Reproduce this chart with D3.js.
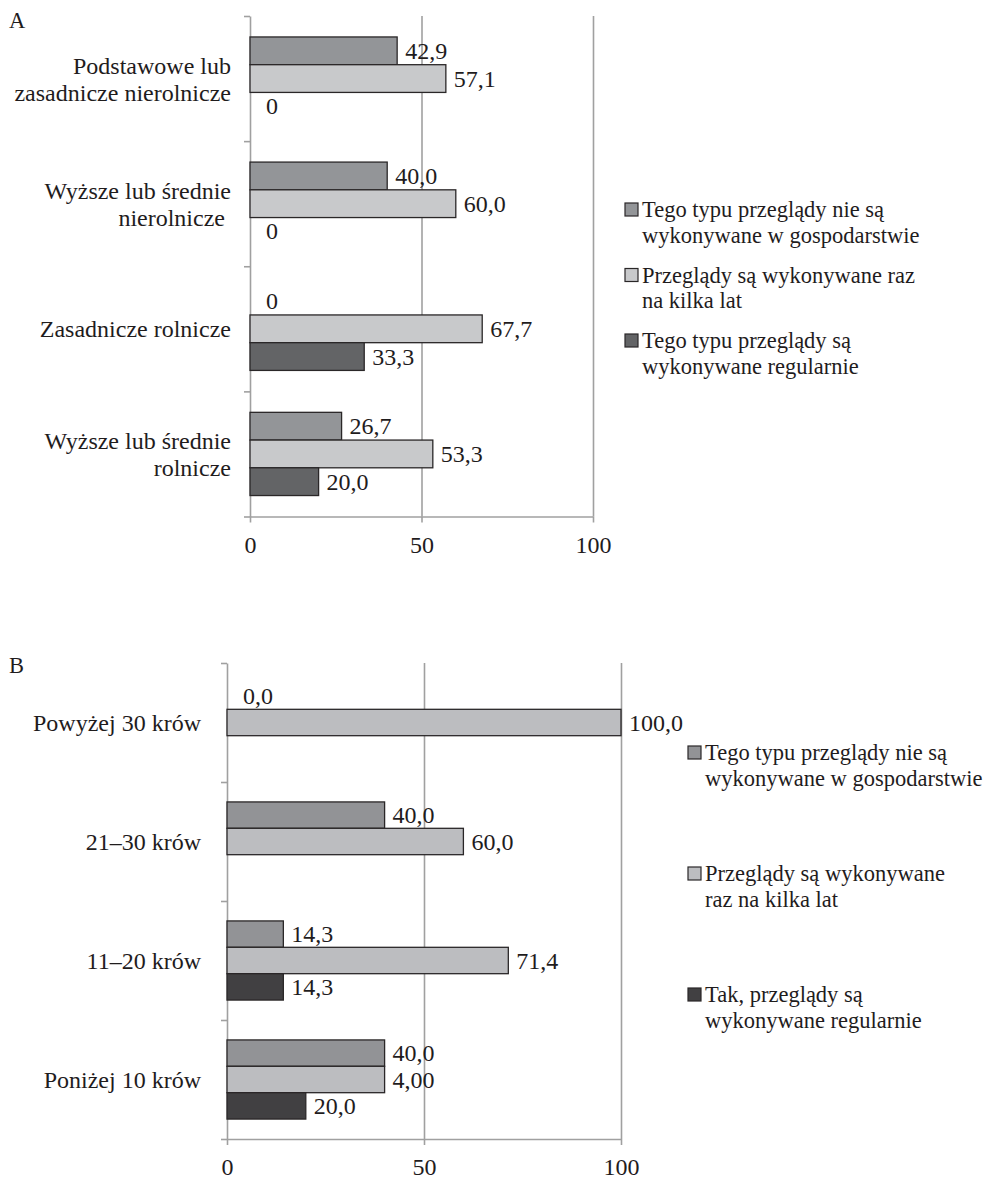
<!DOCTYPE html>
<html>
<head>
<meta charset="utf-8">
<script src="https://cdnjs.cloudflare.com/ajax/libs/d3/7.8.5/d3.min.js"></script>
<style>
  body { margin: 0; background: #fff; }
  svg text { font-family: "Liberation Serif", "Times New Roman", serif; fill: #1f1c1d; }
</style>
</head>
<body>
<script>
// ---- data, panel A (wykształcenie) ----
var catsA = [["Podstawowe lub", "zasadnicze nierolnicze"],
             ["Wyższe lub średnie", "nierolnicze "],
             ["Zasadnicze rolnicze"],
             ["Wyższe lub średnie", "rolnicze"]]
var seriesA = [["Tego typu przeglądy nie są", "wykonywane w gospodarstwie"],
               ["Przeglądy są wykonywane raz", "na kilka lat"],
               ["Tego typu przeglądy są", "wykonywane regularnie"]]
var nieA = [42.9, 40.0, 0, 26.7]
var razA = [57.1, 60.0, 67.7, 53.3]
var regA = [0, 0, 33.3, 20.0]
var nieLabA = ["42,9", "40,0", "0", "26,7"]
var razLabA = ["57,1", "60,0", "67,7", "53,3"]
var regLabA = ["0", "0", "33,3", "20,0"]

// ---- data, panel B (wielkość stada) ----
var catsB = [["Powyżej 30 krów "], ["21–30 krów "], ["11–20 krów "], ["Poniżej 10 krów "]]
var seriesB = [["Tego typu przeglądy nie są", "wykonywane w gospodarstwie"],
               ["Przeglądy są wykonywane", "raz na kilka lat"],
               ["Tak, przeglądy są", "wykonywane regularnie"]]
var nieB = [0, 40.0, 14.3, 40.0]
var razB = [100.0, 60.0, 71.4, 40.0]
var regB = [null, null, 14.3, 20.0]
var nieLabB = ["0,0", "40,0", "14,3", "40,0"]
var razLabB = ["100,0", "60,0", "71,4", "4,00"]
var regLabB = [null, null, "14,3", "20,0"]

var xTicks = [0, 50, 100]

var svg = d3.select('body').append('svg')
  .attr('width', 985)
  .attr('height', 1179)

function drawPanel(p) {
  var g = svg.append('g')
  var fs = 24      // axis and data labels
  var legFs = 22.5 // legend

  //scales
  var x = d3.scaleLinear().domain([0, 100]).range([p.left, p.right])
  var ids = p.cats.map(function(d, i){ return i })
  var y0 = d3.scaleBand().domain(ids).range([p.top, p.bottom])
    .paddingInner(0.335).paddingOuter(0.1675)
  var y1 = d3.scaleBand().domain([0, 1, 2]).range([0, y0.bandwidth()])
  var yb = d3.scaleLinear().domain([0, ids.length]).range([p.top, p.bottom])

  //flat list of cells: one per category and series
  var cells = []
  p.values.forEach(function(vals, s){
    vals.forEach(function(v, i){
      cells.push({cat: i, s: s, v: v, lab: p.labels[s][i]})
    })
  })

  //gridlines
  g.append('g')
    .attr('transform', 'translate(0,' + p.bottom + ')')
    .call(d3.axisBottom(x).tickValues([50, 100]).tickSize(-(p.bottom - p.top)).tickFormat(''))
    .call(function(a){
      a.select('.domain').remove()
      a.selectAll('line').attr('stroke', '#a0a0a0').attr('stroke-width', 1.6)
    })

  //x axis
  g.append('g')
    .attr('transform', 'translate(0,' + p.bottom + ')')
    .call(d3.axisBottom(x).tickValues(xTicks).tickSize(6).tickSizeOuter(0).tickPadding(13))
    .call(function(a){
      a.select('.domain').attr('stroke', '#a0a0a0').attr('stroke-width', 1.6)
      a.selectAll('line').attr('stroke', '#a0a0a0').attr('stroke-width', 1.6)
      a.selectAll('text').attr('font-size', fs + 'px').attr('fill', '#1f1c1d')
        .style('font-family', '"Liberation Serif", serif')
    })

  //y axis with ticks between categories
  g.append('g')
    .attr('transform', 'translate(' + p.left + ',0)')
    .call(d3.axisLeft(yb).tickValues(d3.range(ids.length + 1)).tickSize(6).tickSizeOuter(0).tickFormat(''))
    .call(function(a){
      a.select('.domain').attr('stroke', '#a0a0a0').attr('stroke-width', 1.6)
      a.selectAll('line').attr('stroke', '#a0a0a0').attr('stroke-width', 1.6)
    })

  //category labels
  var lab = g.selectAll('.cat').data(p.cats).enter().append('text')
    .attr('class', 'cat')
    .attr('text-anchor', 'end')
    .attr('font-size', fs + 'px')
    .style('white-space', 'pre')
  lab.each(function(lines, i){
    var c = y0(i) + y0.bandwidth() / 2
    d3.select(this).selectAll('tspan').data(lines).enter().append('tspan')
      .attr('x', p.left - p.catGap)
      .attr('y', function(d, j){ return c + (j - (lines.length - 1) / 2) * 27 + 8.5 })
      .text(function(d){ return d })
  })

  //bars
  g.selectAll('.bar').data(cells.filter(function(d){ return d.v != null && d.v > 0 }))
    .enter().append('rect')
    .attr('class', 'bar')
    .attr('x', x(0))
    .attr('y', function(d){ return y0(d.cat) + y1(d.s) })
    .attr('width', function(d){ return x(d.v) - x(0) })
    .attr('height', y1.bandwidth())
    .attr('fill', function(d){ return p.colors[d.s] })
    .attr('stroke', '#2a2728')
    .attr('stroke-width', 1.3)

  //value labels
  g.selectAll('.val').data(cells.filter(function(d){ return d.lab != null }))
    .enter().append('text')
    .attr('class', 'val')
    .attr('x', function(d){ return x(d.v) + (d.v === 0 ? 16 : 8) })
    .attr('y', function(d){ return y0(d.cat) + y1(d.s) + y1.bandwidth() / 2 + 8 })
    .attr('font-size', fs + 'px')
    .text(function(d){ return d.lab })

  //legend
  p.series.forEach(function(lines, s){
    var base = p.legTop + s * p.legStep
    g.append('rect')
      .attr('x', p.legX)
      .attr('y', base - 14)
      .attr('width', 13)
      .attr('height', 13)
      .attr('fill', p.colors[s])
      .attr('stroke', '#2a2728')
      .attr('stroke-width', 1.2)
    g.append('text')
      .attr('font-size', legFs + 'px')
      .selectAll('tspan').data(lines).enter().append('tspan')
      .attr('x', p.legX + 17)
      .attr('y', function(d, j){ return base + j * 25.5 })
      .text(function(d){ return d })
  })

  //panel letter
  g.append('text')
    .attr('x', 9)
    .attr('y', p.letterY)
    .attr('font-size', legFs + 'px')
    .text(p.letter)
}

drawPanel({
  letter: 'A', letterY: 28,
  cats: catsA, series: seriesA,
  values: [nieA, razA, regA],
  labels: [nieLabA, razLabA, regLabA],
  colors: ['#939598', '#c8c9cb', '#636466'],
  left: 250, right: 593, top: 16, bottom: 516.5, catGap: 19,
  legX: 625, legTop: 217, legStep: 65.5
})

drawPanel({
  letter: 'B', letterY: 673,
  cats: catsB, series: seriesB,
  values: [nieB, razB, regB],
  labels: [nieLabB, razLabB, regLabB],
  colors: ['#929396', '#bcbdc0', '#414042'],
  left: 227, right: 621, top: 663, bottom: 1139, catGap: 20,
  legX: 688, legTop: 760, legStep: 121
})
</script>
</body>
</html>
